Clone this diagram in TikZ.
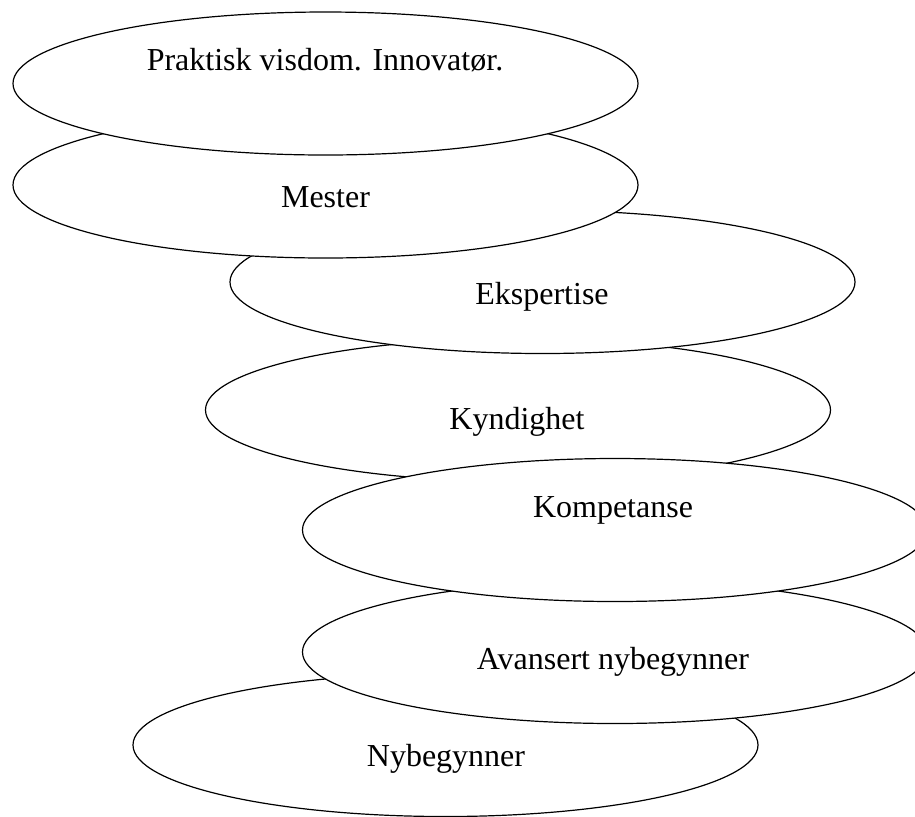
\documentclass[tikz,border=0pt]{standalone}
\usepackage{fontspec}
\setmainfont{Liberation Serif}
\usetikzlibrary{shapes.geometric}

\begin{document}
\begin{tikzpicture}[x=0.5pt, y=-0.5pt,
    level/.style={draw, ellipse, fill=white, line width=0.6pt, minimum width=312.5pt, minimum height=71.5pt, inner sep=0pt},
    tag/.style={anchor=base, inner sep=0pt, font=\fontsize{16}{19}\selectfont}]
    \useasboundingbox (0,0) rectangle (915,816);

    \node[level] (nybegynner) at (445.5,745) {};
    \node[tag] (nybegynnerText) at (446,766) {Nybegynner};

    \node[level] (avansert) at (615,652) {};
    \node[tag] (avansertText) at (613,669) {Avansert nybegynner};

    \node[level] (kyndighet) at (518,410) {};
    \node[tag] (kyndighetText) at (517,429) {Kyndighet};

    \node[level] (kompetanse) at (615,530) {};
    \node[tag] (kompetanseText) at (613,517) {Kompetanse};

    \node[level] (ekspertise) at (542.5,282) {};
    \node[tag] (ekspertiseText) at (542,304) {Ekspertise};

    \node[level, minimum height=73pt] (mester) at (325.5,185) {};
    \node[tag] (mesterText) at (325.5,207) {Mester};

    \node[level] (praktisk) at (325.5,83.5) {};
    \node[tag] (praktiskText) at (325,70) {Praktisk visdom. Innovatør.};
\end{tikzpicture}
\end{document}
